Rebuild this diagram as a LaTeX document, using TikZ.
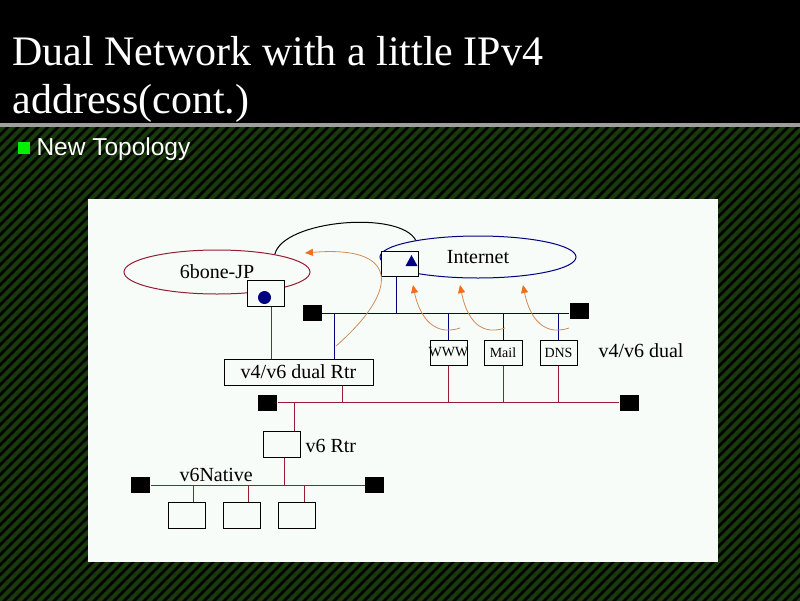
\documentclass[tikz,border=0pt]{standalone}
\usepackage{fontspec}
\setmainfont{Liberation Serif}
\setsansfont{Liberation Sans}
\usetikzlibrary{arrows.meta, shapes.geometric, calc}
\definecolor{stripegreen}{RGB}{24,58,12}
\definecolor{panelwhite}{RGB}{248,252,248}
\definecolor{lanred}{RGB}{150,30,50}
\definecolor{lanblue}{RGB}{0,0,128}
\definecolor{flowline}{RGB}{205,140,90}
\definecolor{flowtip}{RGB}{240,110,30}
\definecolor{bulletgreen}{RGB}{0,240,0}

\tikzset{
  rtrbox/.style={draw, fill=panelwhite, inner sep=0pt, minimum width=37pt, minimum height=26pt},
  srvbox/.style={rtrbox, minimum height=25pt, font=\fontsize{14}{14}\selectfont},
  lanend/.style={fill=black, inner sep=0pt, minimum width=19pt, minimum height=16pt},
  netcloud/.style={ellipse, inner sep=0pt, font=\fontsize{20}{20}\selectfont},
  lbl/.style={inner sep=0pt, font=\fontsize{20}{20}\selectfont},
  flowarrow/.style={flowline, line width=0.8pt, -{Triangle[length=8pt,width=7pt,color=flowtip]}},
}

\begin{document}
\begin{tikzpicture}[x=1pt, y=-1pt, line width=1pt]
  % slide background
  \useasboundingbox (0,0) rectangle (800,600);
  \fill[black] (-10,-10) rectangle (810,610);
  \begin{scope}
    \clip (-10,127) rectangle (810,610);
    \foreach \s in {-620,-610,...,820}
      \draw[stripegreen, line width=4pt] (\s,620) -- ++(620,-620);
  \end{scope}
  \fill[gray!75] (-10,122.5) rectangle (810,127);
  % title
  \node[anchor=base west, inner sep=0pt, text=white, font=\fontsize{42}{48}\selectfont] (titleA) at (12,65) {Dual Network with a little IPv4};
  \node[anchor=base west, inner sep=0pt, text=white, font=\fontsize{42}{48}\selectfont] (titleB) at (12,113) {address(cont.)};
  \node[fill=bulletgreen, inner sep=0pt, minimum size=12pt] (bullet) at (24,148) {};
  \node[anchor=base west, inner sep=0pt, text=white, font=\sffamily\fontsize{24.5}{24.5}\selectfont] (subtitle) at (36,155) {New Topology};

  % diagram panel
  \fill[panelwhite] (88,199) rectangle (718,562);

  % clouds
  \node[netcloud, draw=lanred, minimum width=186pt, minimum height=44pt] (sixbone) at (217,272) {6bone-JP};
  \node[netcloud, draw=lanblue, minimum width=196pt, minimum height=42pt] (inet) at (478,257) {Internet};
  \draw (sixbone.17) .. controls (283,220) and (400,210) .. (inet.165);

  % routers and servers
  \node[rtrbox] (jprtr) at (265.5,293.5) {};
  \fill[lanblue] (264.5,297.5) circle[radius=6.5pt];
  \node[rtrbox, minimum height=25pt] (inetrtr) at (399.5,263.5) {};
  \fill[lanblue] (405.5,266) -- (417.5,266) -- (411.5,255) -- cycle;
  \node[rtrbox, minimum width=149pt, font=\fontsize{20}{20}\selectfont] (dualrtr) at (298.5,372) {v4/v6 dual Rtr};
  \node[rtrbox] (v6rtr) at (281.5,444) {};
  \node[srvbox] (www) at (448.5,352.5) {\makebox[0pt]{WWW}};
  \node[srvbox, minimum width=38pt] (mail) at (503,352.5) {Mail};
  \node[srvbox] (dns) at (558.5,352.5) {DNS};
  \foreach \x [count=\i] in {186.5,241.5,297}
    \node[rtrbox] (host\i) at (\x,515) {};

  % terminators
  \node[lanend] (topL) at (312,313) {};
  \node[lanend] (topR) at (579,310.5) {};
  \node[lanend] (midL) at (267.5,402.5) {};
  \node[lanend] (midR) at (629,402.5) {};
  \node[lanend] (lowL) at (140.5,485) {};
  \node[lanend] (lowR) at (374.5,485) {};

  % dual segment
  \draw[lanblue] (topL.east) -- (topL -| topR.west);
  \draw[lanblue] ([xshift=-3.5pt]inetrtr.south) -- ([xshift=-3.5pt]inetrtr.south |- topL);
  \draw[lanblue] ([xshift=35.5pt]dualrtr.north) -- ([xshift=35.5pt]dualrtr.north |- topL);
  \foreach \s in {www,mail,dns}
    \draw[lanblue] (\s.north) -- (\s.north |- topL);

  % v6 segments
  \draw[lanred] ([xshift=6pt]jprtr.south) -- ([xshift=6pt]jprtr.south |- dualrtr.north);
  \draw[lanred] (midL.east) -- (midL -| midR.west);
  \draw[lanred] ([xshift=43.5pt]dualrtr.south) -- ([xshift=43.5pt]dualrtr.south |- midL);
  \foreach \s in {www,mail,dns}
    \draw[lanred] (\s.south) -- (\s.south |- midL);
  \draw[lanred] ([xshift=12.5pt]v6rtr.north) -- ([xshift=12.5pt]v6rtr.north |- midL);
  \draw[lanred] (lowL.east) -- (lowL -| lowR.west);
  \draw[lanred] ([xshift=2.5pt]v6rtr.south) -- ([xshift=2.5pt]v6rtr.south |- lowL);
  \foreach \i in {1,2,3}
    \draw[lanred] ([xshift=7pt]host\i.north) -- ([xshift=7pt]host\i.north |- lowL);

  % labels
  \node[lbl, anchor=base west] (duallbl) at (598,357) {v4/v6 dual};
  \node[lbl, anchor=base west] (v6lbl) at (305,452) {v6 Rtr};
  \node[lbl, anchor=base west] (nativelbl) at (179,481) {v6Native};

  % traffic
  \coordinate (srcdual) at (336,346);
  \coordinate (dstjp) at (305,253);
  \draw[flowarrow] (srcdual) .. controls (400,290) and (400,245) .. (dstjp);
  \coordinate (srcwww) at (460,328);
  \coordinate (dstwww) at (413,285);
  \coordinate (srcmail) at (505,328);
  \coordinate (dstmail) at (460,285);
  \coordinate (srcdns) at (569,328);
  \coordinate (dstdns) at (523,285);
  \foreach \s in {www,mail,dns}
    \draw[flowarrow] (src\s) .. controls +(-30,10) and +(5,25) .. (dst\s);
\end{tikzpicture}
\end{document}
